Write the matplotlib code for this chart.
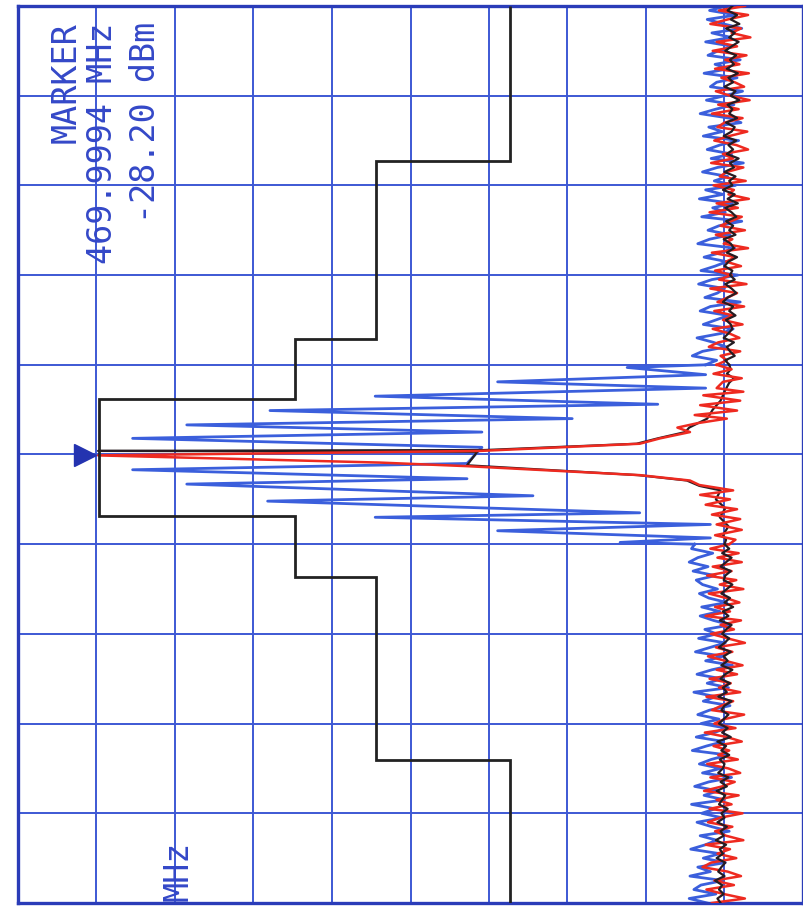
import numpy as np
import matplotlib
matplotlib.use('Agg')
import matplotlib.pyplot as plt

# frequency in kHz offset from 470.000 MHz, amplitude in dBm
f_up = np.arange(50, 9.9, -0.5)      # upper noise sweep points
f_lo = np.arange(-10, -50.1, -0.5)   # lower noise sweep points

blue_up = [
    -108.2, -106.1, -109.5, -105.8, -107.9, -110.2, -106.4, -108.8, -105.6, -109.1,
    -107.2, -105.9, -110.0, -106.8, -108.5, -105.4, -109.6, -107.0, -106.2, -110.3,
    -108.0, -105.7, -109.2, -106.9, -104.9, -108.6, -110.1, -106.0, -107.7, -105.3,
    -109.8, -107.4, -105.8, -108.9, -106.3, -110.4, -107.1, -105.2, -108.4, -106.7,
    -109.4, -105.6, -107.8, -104.8, -109.0, -106.5, -108.1, -105.1, -110.2, -107.3,
    -105.9, -108.7, -106.1, -104.6, -109.3, -107.5, -105.4, -108.3, -106.8, -105.0,
    -109.7, -106.4, -104.7, -108.0, -107.1, -105.5, -110.0, -106.2, -104.9, -108.5,
    -106.9, -105.3, -109.1, -107.6, -104.5, -106.6, -108.2, -105.2, -103.9, -107.0,
    -105.6]
blue_mid_f = [9.7, 8.9, 8.1, 7.4, 6.5, 5.6, 4.9, 4.0, 3.3, 2.5, 1.8, 0.8,
              -1.0, -1.7, -2.7, -3.3, -4.6, -5.2, -6.5, -7.0, -7.8, -8.5, -9.3, -9.8]
blue_mid = [-95.6, -105.6, -79.1, -105.6, -63.5, -99.5, -50.1, -88.6, -39.5, -77.1, -32.6, -77.1,
            -75.2, -32.6, -75.2, -39.5, -83.6, -49.8, -97.2, -63.5, -106.2, -79.1, -106.2, -94.7]
blue_lo = [
    -104.2, -103.8, -106.5, -104.6, -103.5, -105.9, -104.0, -106.8, -104.4, -105.2,
    -107.1, -104.8, -106.0, -108.3, -105.1, -107.4, -104.9, -106.6, -108.8, -105.5,
    -107.0, -104.7, -108.1, -106.2, -104.3, -107.8, -105.6, -109.0, -106.4, -104.5,
    -107.6, -105.8, -108.5, -104.1, -106.9, -105.3, -108.7, -106.1, -104.6, -107.3,
    -105.0, -108.2, -106.7, -104.4, -107.9, -105.7, -103.9, -108.4, -106.3, -104.8,
    -107.5, -105.2, -108.9, -106.0, -104.2, -107.2, -105.4, -108.0, -103.8, -106.8,
    -105.1, -107.7, -104.5, -106.4, -108.6, -104.9, -107.0, -105.6, -103.7, -107.4,
    -105.3, -108.1, -104.6, -106.2, -103.6, -107.8, -105.0, -104.1, -106.9, -103.5,
    -105.8]

red_up = [
    -110.6, -107.3, -111.0, -108.4, -106.2, -110.1, -108.9, -111.3, -107.0, -109.6,
    -106.5, -110.8, -108.1, -109.9, -106.8, -111.1, -107.6, -109.3, -110.5, -106.9,
    -108.7, -111.2, -107.2, -109.8, -106.4, -110.3, -108.0, -107.1, -110.9, -108.6,
    -106.7, -109.5, -111.0, -107.8, -109.1, -106.3, -110.4, -108.3, -107.4, -110.7,
    -106.6, -109.2, -108.5, -111.1, -107.0, -109.7, -106.1, -110.2, -108.8, -107.5,
    -110.6, -106.9, -109.0, -107.9, -111.0, -106.4, -109.4, -108.2, -110.1, -106.8,
    -108.9, -107.3, -110.8, -106.2, -109.6, -108.4, -107.1, -110.5, -106.7, -109.1,
    -107.8, -110.3, -106.5, -108.6, -109.9, -107.2, -106.0, -110.0, -107.5, -108.3,
    -107.0]
red_mid_f = [9.5, 9.0, 8.5, 8.1, 7.4, 7.0, 6.6, 6.0, 5.5, 4.9, 4.4, 4.0, 3.5, 3.0, 2.5, 1.8, 1.2, 0.4,
             -0.1, -0.9, -1.3, -2.3, -2.9, -3.4, -4.0, -4.5, -5.0, -5.6, -6.1, -6.7, -7.2, -7.8,
             -8.4, -9.0, -9.5]
red_mid = [-108.9, -106.6, -110.2, -107.8, -107.0, -110.4, -105.3, -110.0, -104.9, -109.6, -104.2,
           -108.3, -104.6, -102.0, -103.6, -99.8, -97.2, -76.9,
           -28.2, -64.1, -75.2, -97.2, -103.6, -104.8, -109.1, -104.9, -108.7, -105.6, -109.6,
           -106.4, -110.0, -107.0, -110.2, -106.8, -109.4]
red_lo = [
    -108.6, -106.2, -109.8, -107.1, -110.2, -106.5, -108.9, -105.8, -109.5, -107.4,
    -110.4, -106.0, -108.2, -109.9, -106.8, -108.7, -105.6, -110.1, -107.5, -109.2,
    -106.3, -108.4, -110.6, -106.9, -109.0, -105.9, -108.1, -110.3, -107.0, -109.6,
    -106.1, -108.8, -107.3, -110.0, -105.7, -109.1, -107.6, -106.4, -110.5, -108.0,
    -106.7, -109.4, -105.5, -108.3, -110.2, -106.6, -108.6, -107.2, -109.7, -105.8,
    -108.5, -110.0, -106.2, -109.3, -107.7, -105.4, -109.8, -107.0, -108.9, -106.1,
    -110.3, -107.4, -105.9, -109.0, -106.8, -108.2, -110.4, -105.6, -108.7, -107.1,
    -109.5, -106.3, -105.2, -108.4, -110.1, -106.7, -109.2, -105.7, -107.9, -110.6,
    -106.4]

black_up = [
    -109.0, -108.4, -109.6, -108.8, -109.9, -108.2, -109.3, -108.6, -109.8, -108.9,
    -108.1, -109.5, -108.7, -109.2, -108.3, -109.7, -108.5, -109.1, -108.0, -109.4,
    -108.8, -109.9, -108.4, -109.0, -108.6, -109.6, -108.2, -109.3, -108.9, -107.9,
    -109.5, -108.5, -109.1, -108.3, -109.8, -108.7, -109.2, -108.0, -109.4, -108.6,
    -109.0, -107.8, -109.3, -108.4, -109.7, -108.1, -108.9, -109.5, -108.2, -109.1,
    -108.6, -109.4, -107.9, -108.8, -109.2, -108.3, -109.6, -108.5, -108.0, -109.0,
    -108.7, -109.3, -108.1, -108.9, -109.5, -108.4, -107.8, -109.1, -108.6, -109.4,
    -108.2, -108.8, -109.0, -108.5, -107.9, -109.2, -108.3, -108.7, -109.3, -108.1,
    -108.6]
black_mid_f = [9.5, 9.0, 8.5, 8.0, 7.0, 6.0, 5.0, 4.0, 3.0, 2.5, 1.8, 1.2, 0.5, 0.4, 0.3,
               -1.2, -2.3, -2.9, -3.5, -4.0, -5.0, -6.0, -7.0, -8.0, -9.0, -9.5]
black_mid = [-108.8, -108.3, -109.2, -108.6, -108.0, -107.5, -106.5, -105.8, -103.5, -103.0,
             -99.5, -96.8, -77.5, -28.2, -76.5, -75.2, -97.0, -103.2, -104.8, -107.5, -106.9,
             -108.1, -107.4, -108.5, -107.8, -108.2]
black_lo = [
    -108.0, -108.6, -107.7, -108.9, -108.2, -107.5, -108.8, -108.1, -107.9, -109.0,
    -108.3, -107.6, -108.7, -108.0, -109.1, -107.8, -108.5, -107.4, -108.9, -108.2,
    -107.7, -108.6, -108.0, -107.3, -108.8, -107.9, -108.4, -107.6, -109.0, -108.1,
    -107.5, -108.7, -107.8, -108.3, -107.2, -108.9, -108.0, -107.6, -108.5, -107.9,
    -107.3, -108.4, -107.7, -108.8, -107.1, -108.2, -107.6, -108.6, -107.4, -108.0,
    -107.8, -107.2, -108.5, -107.5, -108.3, -107.0, -108.1, -107.7, -107.3, -108.4,
    -107.6, -108.0, -107.1, -108.3, -107.5, -107.9, -106.9, -108.2, -107.4, -107.8,
    -107.0, -108.1, -107.6, -107.2, -108.0, -106.8, -107.7, -107.3, -107.9, -107.1,
    -107.5]

# spectrum mask (limit line)
mask_edges = [-50, -34.1, -13.7, -6.9, 6.2, 12.9, 32.7, 50]
mask_db = [-80.7, -63.6, -53.3, -28.3, -53.3, -63.6, -80.7]

marker_f, marker_db = -0.1, -28.2

BLUE = '#3b5fdc'
RED = '#ee2a20'
BLACK = '#261c22'
GRID = '#3d58d4'

fig = plt.figure(figsize=(8.04, 9.13), dpi=100)
ax = fig.add_axes([18/804, 10/913, 785/804, 897/913])

ax.set_xlim(-18, -118)
ax.set_ylim(-50, 50)
ax.set_xticks(np.arange(-18, -119, -10))
ax.set_yticks(np.arange(-50, 51, 10))
ax.tick_params(length=0, labelbottom=False, labelleft=False)
ax.grid(True, color=GRID, lw=1.4)
for s in ax.spines.values():
    s.set_color('#2a3cb8')
    s.set_linewidth(2.4)


def trace(up, mid_f, mid, lo, color, lw, z, z_mid=None):
    ax.plot(up, f_up, color=color, lw=lw, zorder=z)
    ax.plot([up[-1]] + list(mid) + [lo[0]], [f_up[-1]] + list(mid_f) + [f_lo[0]],
            color=color, lw=lw, zorder=z if z_mid is None else z_mid)
    ax.plot(lo, f_lo, color=color, lw=lw, zorder=z)


trace(blue_up, blue_mid_f, blue_mid, blue_lo, BLUE, 2.0, 2)
trace(red_up, red_mid_f, red_mid, red_lo, RED, 1.8, 3)
trace(black_up, black_mid_f, black_mid, black_lo, BLACK, 1.6, 4, z_mid=2.5)

ax.stairs(mask_db, mask_edges, orientation='horizontal', baseline=None,
          color='#222222', lw=2.0, zorder=3.5)

ax.plot(marker_db + 1.7, marker_f, marker='>', ms=16, color='#2433b0', zorder=5)

txt = dict(family='DejaVu Sans Mono', fontsize=24, color='#3448c8', rotation=90,
           transform=ax.transAxes, ha='center', va='top')
ax.text(0.061, 0.982, 'MARKER', **txt)
ax.text(0.108, 0.982, '469.9994 MHz', **txt)
ax.text(0.163, 0.982, '-28.20 dBm', **txt)
ax.text(0.204, 0.002, 'MHz', family='DejaVu Sans Mono', fontsize=24, color='#3448c8',
        rotation=90, transform=ax.transAxes, ha='center', va='bottom')

fig.savefig('out.png', dpi=100)
